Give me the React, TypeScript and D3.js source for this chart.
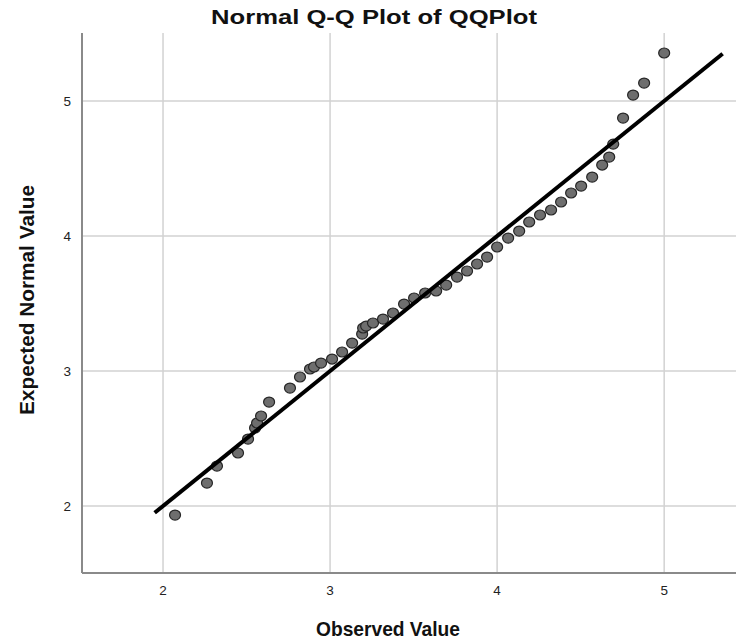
import React from 'react';
import * as d3 from 'd3';

const observed = [
  2.072, 2.263, 2.323, 2.449, 2.509, 2.551, 2.563, 2.587, 2.635, 2.76,
  2.82, 2.88, 2.904, 2.946, 3.012, 3.072, 3.132, 3.192, 3.198, 3.216,
  3.257, 3.317, 3.377, 3.443, 3.503, 3.569, 3.635, 3.695, 3.76, 3.82,
  3.88, 3.94, 4.0, 4.066, 4.132, 4.192, 4.257, 4.323, 4.383, 4.443,
  4.503, 4.569, 4.629, 4.671, 4.695, 4.754, 4.814, 4.88, 5.0,
];
const expected = [
  1.933, 2.17, 2.296, 2.393, 2.496, 2.578, 2.615, 2.667, 2.77, 2.874,
  2.956, 3.015, 3.03, 3.059, 3.089, 3.141, 3.207, 3.274, 3.319, 3.333,
  3.356, 3.385, 3.43, 3.496, 3.541, 3.578, 3.593, 3.637, 3.696, 3.741,
  3.793, 3.844, 3.919, 3.985, 4.037, 4.104, 4.156, 4.193, 4.252, 4.319,
  4.37, 4.437, 4.526, 4.585, 4.681, 4.874, 5.044, 5.133, 5.356,
];
const xTicks = [2, 3, 4, 5];
const yTicks = [2, 3, 4, 5];
const refLine = [1.95, 5.35];

const W = 736;
const H = 643;
const margin = { top: 33, right: 0, bottom: 70, left: 82 };
const font = '"Liberation Sans", Arial, sans-serif';

export default function App() {
  const x = d3.scaleLinear().domain([1.515, 5.43]).range([margin.left, W - margin.right]);
  const y = d3.scaleLinear().domain([1.504, 5.504]).range([H - margin.bottom, margin.top]);
  const points = observed.map((o, i) => ({ o, e: expected[i] }));
  const line = d3.line<number>().x((d) => x(d)).y((d) => y(d));
  const bottom = H - margin.bottom;

  return (
    <svg width={W} height={H} style={{ position: 'absolute', left: 0, top: 0, background: '#fff' }} fontFamily={font}>
      {/* grid */}
      {xTicks.map((t) => (
        <line key={'gx' + t} x1={x(t)} x2={x(t)} y1={margin.top} y2={bottom} stroke="#d2d2d2" strokeWidth={1.5} />
      ))}
      {yTicks.map((t) => (
        <line key={'gy' + t} x1={margin.left} x2={W} y1={y(t)} y2={y(t)} stroke="#d2d2d2" strokeWidth={1.5} />
      ))}
      {/* axes */}
      <line x1={margin.left} x2={margin.left} y1={margin.top} y2={bottom} stroke="#8a8a8a" strokeWidth={2} />
      <line x1={margin.left} x2={W} y1={bottom} y2={bottom} stroke="#8a8a8a" strokeWidth={2} />
      {xTicks.map((t) => (
        <text key={'tx' + t} x={x(t)} y={bottom + 22} textAnchor="middle" fontSize={13.5} fill="#222">{t}</text>
      ))}
      {yTicks.map((t) => (
        <text key={'ty' + t} x={margin.left - 11} y={y(t) + 5} textAnchor="end" fontSize={13.5} fill="#222">{t}</text>
      ))}
      {/* points */}
      {points.map((p, i) => (
        <ellipse key={i} cx={x(p.o)} cy={y(p.e)} rx={5.5} ry={5} fill="#6e6e6e" stroke="#262626" strokeWidth={1.2} />
      ))}
      {/* reference line */}
      <path d={line(refLine) || ''} stroke="#000" strokeWidth={4} fill="none" />
      {/* titles */}
      <text x={374} y={24} textAnchor="middle" fontSize={20} fontWeight="bold" fill="#111"
        textLength={326} lengthAdjust="spacingAndGlyphs">Normal Q-Q Plot of QQPlot</text>
      <text x={388} y={636} textAnchor="middle" fontSize={21} fontWeight="bold" fill="#111"
        textLength={144} lengthAdjust="spacingAndGlyphs">Observed Value</text>
      <text transform={`translate(34,300) rotate(-90)`} textAnchor="middle" fontSize={21} fontWeight="bold" fill="#111"
        textLength={230} lengthAdjust="spacingAndGlyphs">Expected Normal Value</text>
    </svg>
  );
}
